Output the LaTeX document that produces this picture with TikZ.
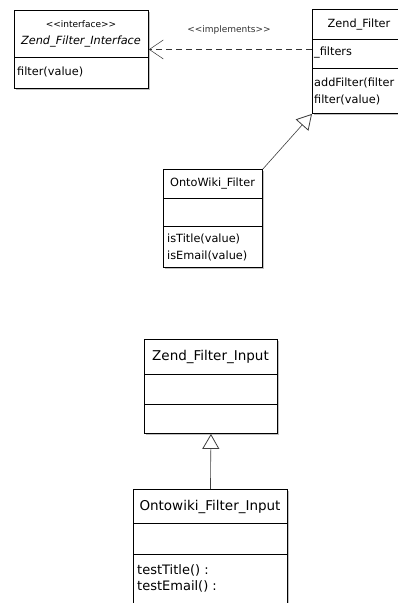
\documentclass[tikz,border=0pt]{standalone}
\usepackage{fontspec}
\setmainfont{DejaVu Sans}
\usetikzlibrary{arrows.meta,shadows}
\newcommand{\lguil}{<\kern0pt<\kern0pt}
\newcommand{\rguil}{>\kern0pt>}
\tikzset{
  cls/.style={draw=black, line width=0.9pt, fill=white, anchor=north west, inner sep=0pt,
    drop shadow={shadow xshift=1.5pt, shadow yshift=-1.5pt, fill=black!40, opacity=0.6}},
  divider/.style={draw=black, line width=0.9pt},
  ut/.style={font=\fontsize{11.3}{13}\selectfont, inner sep=0pt, anchor=west},
  utc/.style={font=\fontsize{11.3}{13}\selectfont, inner sep=0pt},
  lt/.style={font=\fontsize{13}{15}\selectfont, inner sep=0pt, anchor=west},
  ltc/.style={font=\fontsize{13.5}{15}\selectfont, inner sep=0pt},
  smt/.style={font=\fontsize{9}{11}\selectfont, inner sep=0pt},
  dep/.style={draw=black!80, line width=0.7pt, dash pattern=on 6pt off 4pt, -{Straight Barb[length=14pt,width=19pt,line width=0.5pt]}},
  gen/.style={draw=black!75, line width=0.6pt, -{Triangle[open,length=15pt,width=17pt,fill=white,line width=0.8pt]}}
}
\begin{document}
\begin{tikzpicture}[x=1pt,y=-1pt]
\useasboundingbox (0,0) rectangle (398,603);
\clip (0,0) rectangle (398,603);
\fill[white] (0,0) rectangle (398,603);

% Interface
\node[cls, minimum width=134, minimum height=78] (ifc) at (14,10) {};
\draw[divider] ([yshift=-47pt]ifc.north west) -- ([yshift=-47pt]ifc.north east);
\node[smt] (ifcst) at (81,24) {\lguil interface\rguil};
\node[utc, font=\fontsize{11.3}{13}\selectfont\itshape] (ifcn) at (81,42) {Zend\_Filter\_Interface};
\node[ut] (ifcm) at (17,72) {filter(value)};

% Zend_Filter
\node[cls, minimum width=96, minimum height=104] (zf) at (312,9) {};
\draw[divider] ([yshift=-30pt]zf.north west) -- ([yshift=-30pt]zf.north east);
\draw[divider] ([yshift=-59pt]zf.north west) -- ([yshift=-59pt]zf.north east);
\node[utc] (zfn) at (359,25) {Zend\_Filter};
\node[ut] (zfa) at (314,53) {\_filters};
\node[ut] (zfm1) at (314,83) {addFilter(filter};
\node[ut] (zfm2) at (314,100) {filter(value)};

% OntoWiki_Filter
\node[cls, minimum width=99, minimum height=98] (of) at (163,169) {};
\draw[divider] ([yshift=-29pt]of.north west) -- ([yshift=-29pt]of.north east);
\draw[divider] ([yshift=-57pt]of.north west) -- ([yshift=-57pt]of.north east);
\node[utc] (ofn) at (212.5,184) {OntoWiki\_Filter};
\node[ut] (ofm1) at (167,239) {isTitle(value)};
\node[ut] (ofm2) at (167,256) {isEmail(value)};

% Zend_Filter_Input
\node[cls, minimum width=133, minimum height=94] (zfi) at (144,339) {};
\draw[divider] ([yshift=-35pt]zfi.north west) -- ([yshift=-35pt]zfi.north east);
\draw[divider] ([yshift=-65pt]zfi.north west) -- ([yshift=-65pt]zfi.north east);
\node[ltc] (zfin) at (210.5,357) {Zend\_Filter\_Input};

% Ontowiki_Filter_Input
\node[cls, minimum width=154, minimum height=130] (ofi) at (133,489) {};
\draw[divider] ([yshift=-34pt]ofi.north west) -- ([yshift=-34pt]ofi.north east);
\draw[divider] ([yshift=-65pt]ofi.north west) -- ([yshift=-65pt]ofi.north east);
\node[ltc] (ofin) at (210,507) {Ontowiki\_Filter\_Input};
\node[lt] (ofim1) at (137,570) {testTitle() :};
\node[lt] (ofim2) at (137,586) {testEmail() :};

% connectors
\draw[dep] (zf.west |- ifc.east) -- (ifc.east);
\node[smt, text=black!80] (impl) at (229,30) {\lguil implements\rguil};
\draw[gen] (of.north east) -- (zf.south west);
\draw[gen] (ofi.north) -- (zfi.south);
\end{tikzpicture}
\end{document}
